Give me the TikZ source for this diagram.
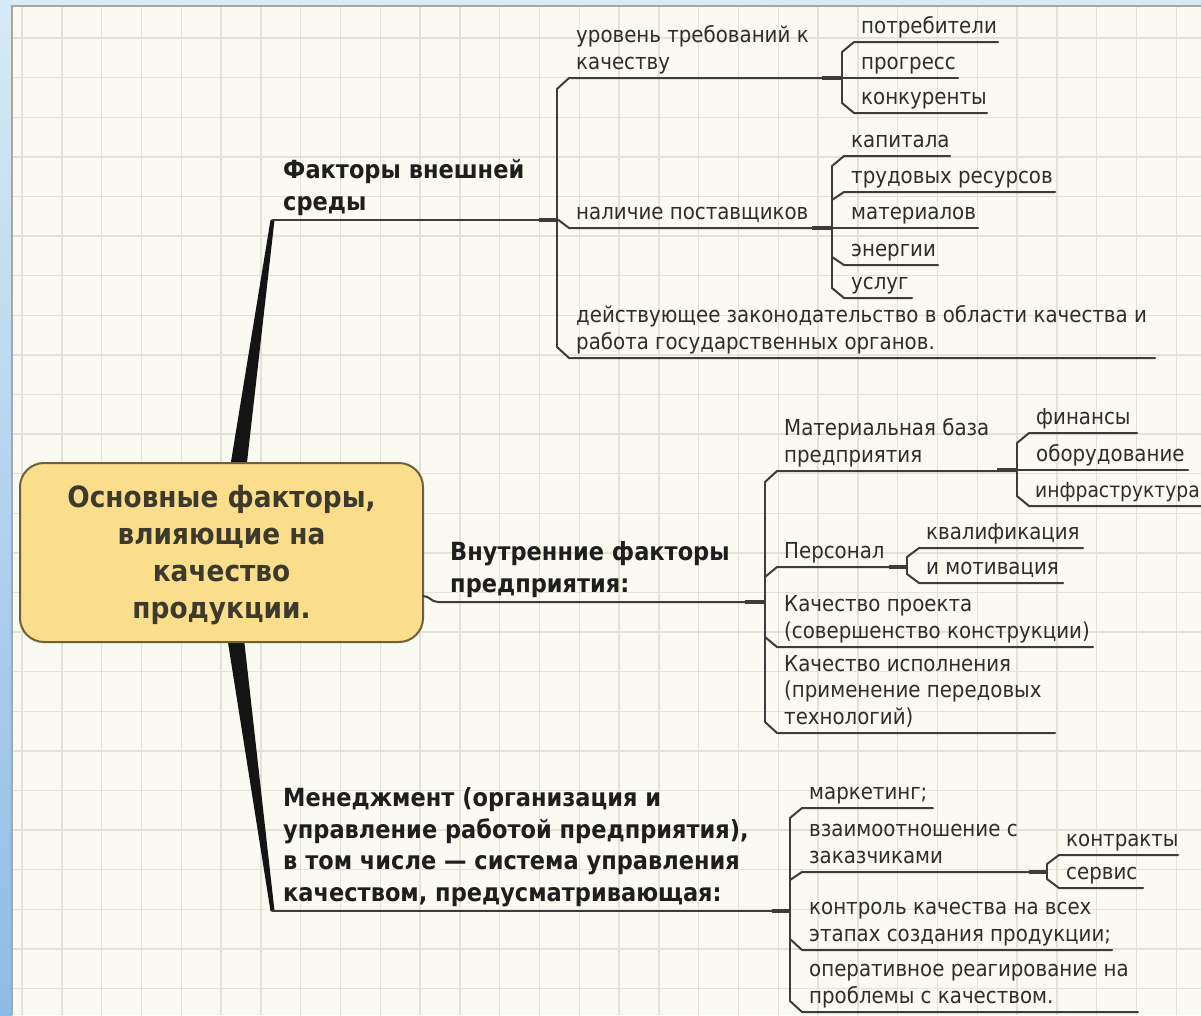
\documentclass[tikz,border=0pt]{standalone}
\usepackage{fontspec}
\usetikzlibrary{calc}
\setmainfont{DejaVu Sans}[FakeStretch=0.9]
\definecolor{canvas}{RGB}{250,250,242}
\definecolor{gridc}{RGB}{226,226,214}
\definecolor{edge}{RGB}{168,168,160}
\definecolor{bluetop}{RGB}{214,234,246}
\definecolor{bluebot}{RGB}{142,188,230}
\definecolor{boxfill}{RGB}{251,222,140}
\definecolor{boxline}{RGB}{110,96,60}
\definecolor{boxtxt}{RGB}{60,58,45}
\definecolor{lin}{RGB}{60,60,60}
\definecolor{txt}{RGB}{45,45,45}
\definecolor{btxt}{RGB}{30,30,30}
\newcommand{\ml}[1]{\begin{tabular}[b]{@{}l@{}}#1\end{tabular}}
% #1 name, #2 bracket x, #3 underline y, #4 chamfer dy, #5 end x, #6 text
\newcommand{\itm}[6]{%
  \coordinate (#1s) at (#2,{#3+#4});
  \coordinate (#1e) at (#5,#3);
  \node[lbl] (#1) at ({#2+19},{#3-9}) {\ml{#6}};
  \draw[ul] (#1s) -- ++(12,{-(#4)}) -- (#1e);
}
\tikzset{
  lbl/.style={anchor=base west, inner sep=0pt, text=txt, font=\fontsize{22}{26.5}\selectfont},
  blbl/.style={anchor=base west, inner sep=0pt, text=btxt, font=\fontsize{25}{31.5}\selectfont\bfseries},
  ul/.style={draw=lin, line width=2pt, line cap=round, line join=round},
  stub/.style={draw=lin, line width=3.6pt},
  brfill/.style={fill=black!92},
  gridline/.style={draw=gridc, line width=1.4pt},
  rootbox/.style={draw=boxline, line width=2pt, fill=boxfill, rounded corners=24pt,
    minimum width=403pt, minimum height=179pt, inner sep=0pt},
  roottxt/.style={inner sep=0pt, text=boxtxt, align=center,
    font=\fontsize{29.3}{37}\selectfont\bfseries}
}
\begin{document}
\begin{tikzpicture}[x=1pt,y=-1pt]
\useasboundingbox (0,0) rectangle (1201,1015);
% background
\fill[left color=bluetop!90!white, right color=bluetop] (0,0) rectangle (1201,6);
\shade[top color=bluetop, bottom color=bluebot] (0,0) rectangle (12,1015);
\fill[canvas] (12,6) rectangle (1201,1015);
\begin{scope}
\clip (12,6) rectangle (1201,1015);
\foreach \i in {0,...,29} \draw[gridline] ({22+39.8*\i},6) -- ({22+39.8*\i},1015);
\foreach \j in {0,...,24} \draw[gridline] (12,{38+39.6*\j}) -- (1201,{38+39.6*\j});
\end{scope}
\draw[edge, line width=1.5pt] (12,1015) -- (12,6) -- (1201,6);

% tapered main branches
\coordinate (t1) at (272,220);
\coordinate (t3) at (272,911);
\fill[brfill] (228,480) -- (245,480) -- ($(t1)+(2.5,0)$) -- ($(t1)+(-1.5,0)$) -- cycle;
\fill[brfill] (226,630) -- (243,630) -- ($(t3)+(2.5,0)$) -- ($(t3)+(-1.5,0)$) -- cycle;

% root
\node[rootbox] (root) at (221.5,552.5) {};
\node[roottxt] (roottext) at (221.5,555.5) {Основные факторы,\\влияющие на\\качество\\продукции.};

% ---------- branch 1
\node[blbl] (m1) at (283,210) {\ml{Факторы внешней\\среды}};
\coordinate (j1) at (557,220);
\draw[ul] (t1) -- (j1);
\draw[stub] (539,220) -- (j1);
\itm{a1}{557}{78}{11}{842}{уровень требований к\\качеству}
\itm{a2}{557}{228}{-9}{832}{наличие поставщиков}
\itm{a3}{557}{358}{-11}{1155}{действующее законодательство в области качества и\\работа государственных органов.}
\draw[ul] (a1s) -- (a3s);
% sub 1a
\coordinate (j11) at (842,78);
\draw[stub] (822,78) -- (j11);
\itm{a11}{842}{42}{10}{998}{потребители}
\itm{a12}{842}{78}{0}{958}{прогресс}
\itm{a13}{842}{113}{-10}{987}{конкуренты}
\draw[ul] (a11s) -- (a13s);
% sub 1b
\coordinate (j12) at (832,228);
\draw[stub] (812,228) -- (j12);
\itm{a21}{832}{156}{10}{950}{капитала}
\itm{a22}{832}{192}{8}{1055}{трудовых ресурсов}
\itm{a23}{832}{228}{0}{978}{материалов}
\itm{a24}{832}{265}{-8}{938}{энергии}
\itm{a25}{832}{298}{-10}{912}{услуг}
\draw[ul] (a21s) -- (a25s);

% ---------- branch 2
\node[blbl] (m2) at (450,592) {\ml{Внутренние факторы\\предприятия:}};
\coordinate (m2s) at (423,596);
\coordinate (j2) at (765,602);
\draw[ul] (m2s) .. controls (430,596) and (431,602) .. (438,602) -- (j2);
\draw[stub] (745,602) -- (j2);
\itm{b1}{765}{471}{11}{1017}{Материальная база\\предприятия}
\itm{b2}{765}{567}{10}{907}{Персонал}
\itm{b3}{765}{647}{-10}{1093}{Качество проекта\\(совершенство конструкции)}
\itm{b4}{765}{733}{-11}{1055}{Качество исполнения\\(применение передовых\\технологий)}
\draw[ul] (b1s) -- (b4s);
% sub 2a
\coordinate (j21) at (1017,470);
\draw[stub] (997,470) -- (j21);
\itm{b11}{1017}{433}{10}{1137}{финансы}
\itm{b12}{1017}{470}{0}{1188}{оборудование}
\coordinate (b13s) at (1017,496);
\coordinate (b13e) at (1205,506);
\node[lbl, font=\fontsize{20.8}{26.5}\selectfont] (b13) at (1035,497) {инфраструктура};
\draw[ul] (b13s) -- ++(12,10) -- (b13e);
\draw[ul] (b11s) -- (b13s);
% sub 2b
\coordinate (j22) at (907,567);
\draw[stub] (889,567) -- (j22);
\itm{b21}{907}{548}{9}{1083}{квалификация}
\itm{b22}{907}{583}{-9}{1063}{и мотивация}
\draw[ul] (b21s) -- (b22s);

% ---------- branch 3
\node[blbl] (m3) at (283,901) {\ml{Менеджмент (организация и\\управление работой предприятия),\\в том числе — система управления\\качеством, предусматривающая:}};
\coordinate (j3) at (790,911);
\draw[ul] (t3) -- (j3);
\draw[stub] (772,911) -- (j3);
\itm{c1}{790}{808}{10}{933}{маркетинг;}
\itm{c2}{790}{872}{8}{1047}{взаимоотношение с\\заказчиками}
\itm{c3}{790}{950}{-11}{1112}{контроль качества на всех\\этапах создания продукции;}
\itm{c4}{790}{1012}{-11}{1138}{оперативное реагирование на\\проблемы с качеством.}
\draw[ul] (c1s) -- (c4s);
% sub 3a
\coordinate (j31) at (1047,872);
\draw[stub] (1029,872) -- (j31);
\itm{c21}{1047}{855}{9}{1178}{контракты}
\itm{c22}{1047}{888}{-9}{1143}{сервис}
\draw[ul] (c21s) -- (c22s);
\end{tikzpicture}
\end{document}
